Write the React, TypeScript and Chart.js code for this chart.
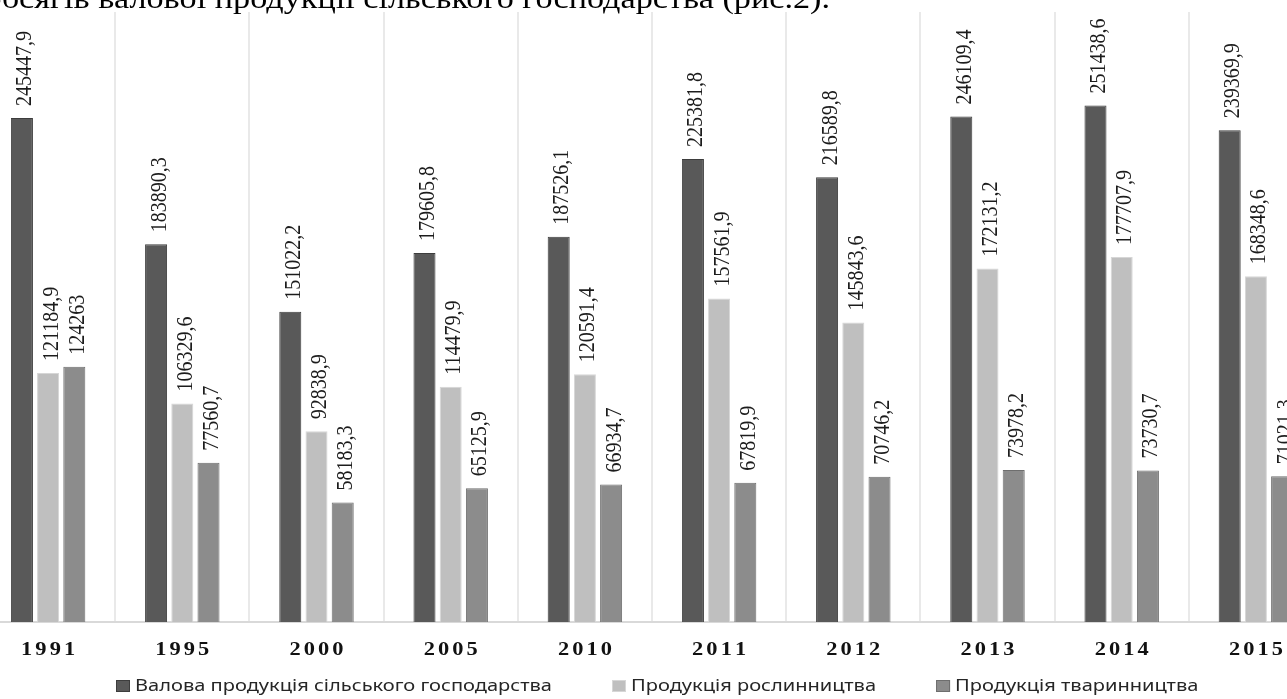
import React, { useEffect, useRef } from 'react';
import { Chart, registerables } from 'chart.js';

Chart.register(...registerables);

const CATEGORIES = ['1991', '1995', '2000', '2005', '2010', '2011', '2012', '2013', '2014', '2015'];
const GROSS_OUTPUT = [245447.9, 183890.3, 151022.2, 179605.8, 187526.1, 225381.8, 216589.8, 246109.4, 251438.6, 239369.9];
const CROP_OUTPUT = [121184.9, 106329.6, 92838.9, 114479.9, 120591.4, 157561.9, 145843.6, 172131.2, 177707.9, 168348.6];
const LIVESTOCK_OUTPUT = [124263, 77560.7, 58183.3, 65125.9, 66934.7, 67819.9, 70746.2, 73978.2, 73730.7, 71021.3];
const SERIES_LABELS = [
  'Валова продукція сільського господарства',
  'Продукція рослинництва',
  'Продукція тваринництва',
];
const CAPTION = 'обсягів валової продукції сільського господарства (рис.2).';
const Y_MAX = 297000;

const SHIFT = 19; // canvas starts left of the visible page
const SX = 1.18; // horizontal stretch of the original picture

const fmt = (v: number) => String(v).replace('.', ',');

const textPlugin = {
  id: 'customText',
  afterDatasetsDraw(chart: any) {
    const ctx = chart.ctx as CanvasRenderingContext2D;
    ctx.save();
    ctx.fillStyle = '#1c1c1c';
    ctx.font = '20px "Liberation Serif"';
    ctx.textAlign = 'left';
    ctx.textBaseline = 'alphabetic';
    chart.data.datasets.forEach((ds: any, di: number) => {
      const meta = chart.getDatasetMeta(di);
      meta.data.forEach((el: any, i: number) => {
        const v = ds.data[i] as number;
        ctx.save();
        ctx.translate(el.x + 9.5, el.y - 12);
        ctx.scale(SX, 1);
        ctx.rotate(-Math.PI / 2);
        ctx.fillText(fmt(v), 0, 0);
        ctx.restore();
      });
    });
    ctx.restore();
  },
  afterDraw(chart: any) {
    const ctx = chart.ctx as CanvasRenderingContext2D;
    const xScale = chart.scales.x;
    // Category labels
    ctx.save();
    ctx.fillStyle = '#111';
    ctx.font = 'bold 19px "Liberation Serif"';
    ctx.textAlign = 'left';
    ctx.textBaseline = 'alphabetic';
    const spacing = 2.6;
    CATEGORIES.forEach((lab, i) => {
      const cx = xScale.getPixelForValue(i);
      const chars = lab.split('');
      const widths = chars.map((c) => ctx.measureText(c).width);
      const total = widths.reduce((a, b) => a + b, 0) + spacing * (chars.length - 1);
      ctx.save();
      ctx.translate(cx, 655);
      ctx.scale(SX, 1);
      let x = -total / 2;
      chars.forEach((c, k) => {
        ctx.fillText(c, x, 0);
        x += widths[k] + spacing;
      });
      ctx.restore();
    });
    ctx.restore();

    // Legend
    ctx.save();
    ctx.font = '16px "Noto Sans"';
    ctx.textBaseline = 'middle';
    ctx.textAlign = 'left';
    const baseW = ctx.measureText(SERIES_LABELS[0]).width;
    const lsx = 417 / baseW;
    let x = 116 + SHIFT;
    chart.data.datasets.forEach((ds: any, di: number) => {
      ctx.fillStyle = ds.backgroundColor;
      ctx.fillRect(x, 680, 14, 12);
      ctx.strokeStyle = ds.borderColor;
      ctx.lineWidth = 1;
      ctx.strokeRect(x + 0.5, 680.5, 13, 11);
      const tx = x + 19;
      const w = ctx.measureText(SERIES_LABELS[di]).width * lsx;
      ctx.fillStyle = '#262626';
      ctx.save();
      ctx.translate(tx, 686.5);
      ctx.scale(lsx, 1);
      ctx.fillText(SERIES_LABELS[di], 0, 0);
      ctx.restore();
      x = tx + w + 60;
    });
    ctx.restore();

    // Caption cut at the top
    ctx.save();
    ctx.fillStyle = '#000';
    ctx.font = '29px "Liberation Serif"';
    ctx.textAlign = 'right';
    ctx.textBaseline = 'alphabetic';
    ctx.translate(830 + SHIFT, 8);
    ctx.scale(SX, 1);
    ctx.fillText(CAPTION, 0, 0);
    ctx.restore();
  },
};

export default function App() {
  const canvasRef = useRef<HTMLCanvasElement | null>(null);

  useEffect(() => {
    if (!canvasRef.current) return;
    const chart = new Chart(canvasRef.current, {
      type: 'bar',
      data: {
        labels: CATEGORIES,
        datasets: [
          {
            label: SERIES_LABELS[0],
            data: GROSS_OUTPUT,
            backgroundColor: '#595959',
            borderColor: '#3d3d3d',
            borderWidth: 1,
            categoryPercentage: 0.586,
            barPercentage: 0.84,
          },
          {
            label: SERIES_LABELS[1],
            data: CROP_OUTPUT,
            backgroundColor: '#bfbfbf',
            borderColor: '#d6d6d6',
            borderWidth: 1,
            categoryPercentage: 0.586,
            barPercentage: 0.84,
          },
          {
            label: SERIES_LABELS[2],
            data: LIVESTOCK_OUTPUT,
            backgroundColor: '#8c8c8c',
            borderColor: '#6e6e6e',
            borderWidth: 1,
            categoryPercentage: 0.586,
            barPercentage: 0.84,
          },
        ],
      },
      options: {
        animation: false,
        responsive: true,
        maintainAspectRatio: false,
        layout: { padding: { top: 12, bottom: 77, left: 0, right: 0 } },
        scales: {
          x: {
            display: true,
            grid: { offset: true, color: '#e9e9e9', lineWidth: 2, drawTicks: false },
            ticks: { display: false },
            border: { color: '#d9d9d9', width: 2 },
          },
          y: { display: false, min: 0, max: Y_MAX },
        },
        plugins: {
          legend: { display: false },
          tooltip: { enabled: false },
        },
      },
      plugins: [textPlugin],
    });
    return () => chart.destroy();
  }, []);

  return (
    <div
      style={{
        position: 'fixed',
        left: 0,
        top: 0,
        width: 1287,
        height: 699,
        overflow: 'hidden',
        background: '#fff',
      }}
    >
      <div style={{ position: 'absolute', left: -SHIFT, top: 0, width: 1342, height: 699 }}>
        <canvas ref={canvasRef} />
      </div>
    </div>
  );
}
